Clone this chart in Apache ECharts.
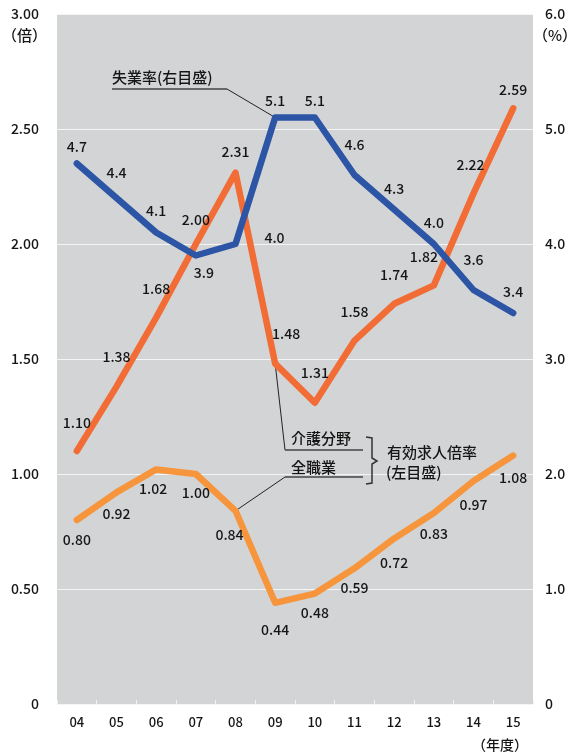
<!DOCTYPE html>
<html><head><meta charset="utf-8">
<script src="https://cdn.jsdelivr.net/npm/echarts@6/dist/echarts.min.js"></script>
<style>html,body{margin:0;padding:0;background:#fff}#c{width:572px;height:756px}</style>
</head><body><div id="c"></div>
<script>
const categories = ['04','05','06','07','08','09','10','11','12','13','14','15'];
const unemployment = [4.7,4.4,4.1,3.9,4.0,5.1,5.1,4.6,4.3,4.0,3.6,3.4];
const careRatio = [1.10,1.38,1.68,2.00,2.31,1.48,1.31,1.58,1.74,1.82,2.22,2.59];
const allRatio = [0.80,0.92,1.02,1.00,0.84,0.44,0.48,0.59,0.72,0.83,0.97,1.08];

// label offsets (pixels, relative to point)
const offUnemp = [[0,-17],[0,-25],[0,-22],[8,17],[39,-6],[0,-17],[0,-17],[0,-30],[0,-21],[0,-21],[0,-30],[0,-21]];
const offCare = [[0,-28],[0,-30],[0,-29],[0,-24],[0,-21],[11,-30],[0,-30],[0,-29],[0,-29],[-10,-29],[-3,-29],[0,-19]];
const offAll = [[0,20],[0,21],[-3,19],[0,19],[-6,24],[0,27],[0,19],[0,19],[0,24],[0,21],[0,24],[0,22]];

const FONT = '"Noto Sans CJK JP","Noto Sans",sans-serif';
const TXT = '#151515';

function mk(vals, offs, dec){
  return vals.map((v,i)=>({value:v,label:{offset:offs[i],formatter:v.toFixed(dec)}}));
}
function lineSeries(name, vals, offs, dec, color, yIdx){
  return {
    name, type:'line', yAxisIndex:yIdx, data: mk(vals, offs, dec),
    symbol:'circle', symbolSize:2, showSymbol:true,
    itemStyle:{color:'rgba(0,0,0,0)', borderWidth:0},
    lineStyle:{color:color, width:6.5, cap:'round', join:'round'},
    label:{show:true, position:'inside', color:TXT, fontSize:14, fontWeight:500, fontFamily:FONT},
    emphasis:{disabled:true}, z:3
  };
}

const chart = echarts.init(document.getElementById('c'));
chart.setOption({
  animation:false,
  backgroundColor:'#fff',
  grid:{left:57, right:39, top:14, bottom:52, show:true, backgroundColor:'#d3d4d6', borderWidth:0},
  xAxis:{type:'category', data:categories, boundaryGap:true,
    axisLine:{show:false},
    axisTick:{show:true, inside:true, length:4, lineStyle:{color:'#f2f2f2'}},
    axisLabel:{color:TXT, fontSize:13, fontWeight:500, fontFamily:FONT, margin:12}},
  yAxis:[
    {type:'value', min:0, max:3, interval:0.5, position:'left',
      axisLine:{show:false}, axisTick:{show:false},
      splitLine:{show:true, lineStyle:{color:'#f4f4f4', width:1}},
      axisLabel:{color:TXT, fontSize:14, fontWeight:500, fontFamily:FONT, margin:18,
        formatter:v=> v===0 ? '0' : v.toFixed(2)}},
    {type:'value', min:0, max:6, interval:1, position:'right',
      axisLine:{show:false}, axisTick:{show:false}, splitLine:{show:false},
      axisLabel:{color:TXT, fontSize:14, fontWeight:500, fontFamily:FONT, margin:12,
        formatter:v=> v===0 ? '0' : v.toFixed(1)}}
  ],
  series:[
    lineSeries('全職業', allRatio, offAll, 2, '#f6953b', 0),
    lineSeries('介護分野', careRatio, offCare, 2, '#f26c36', 0),
    lineSeries('失業率', unemployment, offUnemp, 1, '#2c55a6', 1)
  ]
});

const pBlue = chart.convertToPixel({xAxisIndex:0, yAxisIndex:1}, [5, unemployment[5]]);
const pCare = chart.convertToPixel({xAxisIndex:0, yAxisIndex:0}, [5, careRatio[5]]);
const pAll = chart.convertToPixel({xAxisIndex:0, yAxisIndex:0}, [4, allRatio[4]]);

const tstyle = (t,x,y,align,size)=>({type:'text', x, y, z:10,
  style:{text:t, fill:TXT, font:'500 '+(size||15)+'px '+FONT, textAlign:align||'left', textVerticalAlign:'middle'}});
const ln = (x1,y1,x2,y2,w,c,z)=>({type:'line', z:z||10, shape:{x1,y1,x2,y2}, style:{stroke:c||'#222', lineWidth:w||1}});

chart.setOption({graphic:[
  tstyle('（倍）', 2, 35, 'left', 15),
  tstyle('（%）', 533, 35, 'left', 15),
  tstyle('（年度）', 472, 745, 'left', 14),
  tstyle('失業率(右目盛)', 112, 77, 'left', 15),
  ln(112,89,227,89,1.5,'#444'),
  ln(227,89,pBlue[0],pBlue[1],1,'#222',1),
  tstyle('介護分野', 291, 438, 'left', 15),
  ln(285,450,363,450,1.5,'#444'),
  ln(285,450,pCare[0],pCare[1],1,'#222',1),
  tstyle('全職業', 291, 467, 'left', 15),
  ln(285,477,363,477,1.5,'#444'),
  ln(285,477,pAll[0],pAll[1],1,'#222',1),
  {type:'polyline', z:10, shape:{points:[[366,437],[372,438],[372,458],[377,461],[372,464],[372,483],[366,484]]},
    style:{stroke:'#333', lineWidth:1.5, fill:null}},
  tstyle('有効求人倍率', 387, 452, 'left', 15),
  tstyle('(左目盛)', 386, 472, 'left', 15)
]});
</script></body></html>
